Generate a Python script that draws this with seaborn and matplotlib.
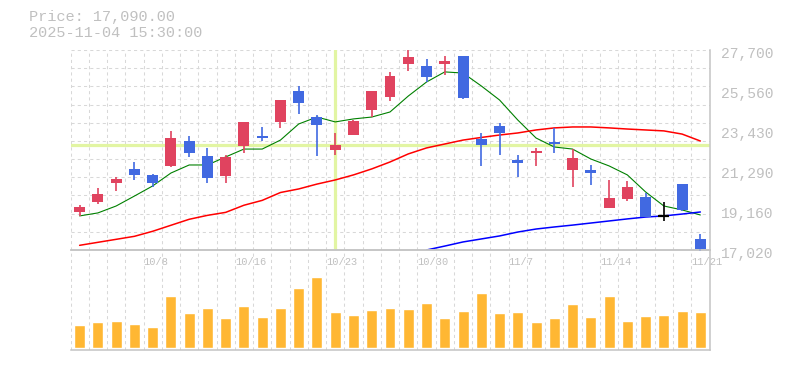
import matplotlib
matplotlib.use("Agg")
import matplotlib.pyplot as plt
import matplotlib.transforms as mtransforms
import numpy as np
import pandas as pd
import seaborn as sns

# trading days shown (2025)
dates = ["10/2", "10/3", "10/6", "10/7", "10/8", "10/9", "10/10", "10/14", "10/15", "10/16",
         "10/17", "10/20", "10/21", "10/22", "10/23", "10/24", "10/27", "10/28", "10/29", "10/30",
         "10/31", "11/4", "11/5", "11/6", "11/7", "11/10", "11/11", "11/12", "11/13", "11/14",
         "11/17", "11/18", "11/19", "11/20", "11/21"]
tickDates = ["10/8", "10/16", "10/23", "10/30", "11/7", "11/14", "11/21"]

opens = [19050, 19580, 20600, 21350, 21030, 21510, 22840, 22040, 20970, 22570, 23110, 23860, 25510, 24120, 22360, 23160, 24500, 25190,
         26950, 26850, 26950, 27380, 22950, 23640, 21830, 22200, 22790, 21290, 21290, 19260, 19740, 19850, 18860, 20540, 17610]
highs = [19440, 20330, 20920, 21720, 21080, 23380, 23110, 22470, 22090, 23860, 23590, 25030, 25780, 24230, 23270, 23960, 25510, 26530,
         27700, 27220, 27380, 27380, 23270, 23800, 22090, 22470, 23540, 22410, 21560, 20760, 20710, 20060, 19580, 20540, 17870]
lows = [18840, 19480, 20170, 20760, 20380, 21450, 21990, 20600, 20600, 22200, 22840, 23540, 24280, 22040, 22090, 23160, 24120, 24980,
        26580, 25990, 26370, 25080, 21510, 22090, 20920, 21510, 22200, 20380, 20490, 19260, 19640, 18780, 18570, 19100, 16970]
closes = [19320, 20010, 20810, 21030, 20600, 23000, 22200, 20870, 21990, 23860, 23000, 25030, 24870, 23700, 22630, 23910, 25510, 26310,
          27330, 26260, 27110, 25140, 22630, 23270, 21670, 22310, 22680, 21930, 21130, 19800, 20380, 18780, 18860, 19160, 17090]

ma5 = [18840, 19000, 19370, 19900, 20440, 21130, 21560, 21560, 21990, 22410, 22410, 22890, 23750, 24120, 23860, 24020, 24120, 24390,
       25240, 25990, 26530, 26470, 25780, 25030, 23960, 23000, 22520, 22410, 21880, 21510, 21030, 20120, 19370, 19160, 18890]
ma25 = [17270, 17430, 17590, 17750, 18020, 18340, 18660, 18870, 19030, 19410, 19670, 20090, 20280, 20540, 20760, 21030, 21350, 21720,
        22150, 22470, 22680, 22890, 23030, 23160, 23270, 23430, 23540, 23590, 23590, 23540, 23480, 23430, 23380, 23210, 22840]
ma75 = [np.nan] * 19 + [17020, 17230, 17450, 17610, 17770, 17980, 18140, 18250, 18350, 18460, 18570, 18680, 18780, 18840, 18940, 19050]

volume = [227, 257, 267, 237, 207, 517, 347, 397, 297, 417, 307, 397, 597, 707, 357, 327, 377, 397,
          387, 447, 297, 367, 547, 347, 357, 257, 297, 437, 307, 517, 267, 317, 327, 367, 357]

priceTicks = [17020, 19160, 21290, 23430, 25560, 27700]
priceTickLabels = ["17,020", "19,160", "21,290", "23,430", "25,560", "27,700"]
crossPrice = 22630
crossDate = "10/23"

upColor = "#e0435f"
downColor = "#4169e1"
gridColor = "#d8d8d8"
frameColor = "#c4c4c4"
textColor = "#c0c0c0"

sns.set_theme(style="white")
plt.rcParams['font.family'] = ['Liberation Mono', 'DejaVu Sans Mono']

W, H = 785, 370
fig = plt.figure(figsize=(W / 100, H / 100), dpi=100)
ax = fig.add_axes([70.5 / W, (H - 250) / H, 639 / W, 200 / H])
axv = fig.add_axes([70.5 / W, (H - 350) / H, 639 / W, 100 / H])

n = len(dates)
idx = np.arange(n)
lo, hi = priceTicks[0], priceTicks[-1]

# grid
for a in (ax, axv):
    a.vlines(np.arange(n) - 0.5, 0, 1, transform=a.get_xaxis_transform(), color=gridColor,
             lw=0.75, linestyles=(0, (3, 3)), zorder=0)
ax.hlines(lo + (hi - lo) / 11 * np.arange(1, 12), -0.5, n - 0.5, color=gridColor,
          lw=0.75, linestyles=(0, (3, 3)), zorder=0)

# crosshair
ax.axhline(crossPrice, color="#e2f5a3", lw=2.3, zorder=1)
ax.axvline(dates.index(crossDate), color="#e2f5a3", lw=2.3, zorder=1)

# moving averages
df = pd.DataFrame({"i": idx, "ma5": ma5, "ma25": ma25, "ma75": ma75})
sns.lineplot(data=df, x="i", y="ma5", ax=ax, color="#008000", lw=0.8, zorder=2)
sns.lineplot(data=df, x="i", y="ma25", ax=ax, color="#ff0000", lw=1.1, zorder=2)
sns.lineplot(data=df, x="i", y="ma75", ax=ax, color="#0000ff", lw=1.1, zorder=2)

# candles
for i in range(n):
    o, h, l, c = opens[i], highs[i], lows[i], closes[i]
    if c > o:
        col = upColor
    elif c < o:
        col = downColor
    else:
        col = "black"
    ax.vlines(i, l, h, color=col, lw=1.2, zorder=3, clip_on=False)
    if c == o:
        ax.hlines(o, i - 0.3, i + 0.3, color=col, lw=1.6, zorder=4)
    else:
        ax.bar(i, abs(c - o), bottom=min(o, c), width=0.6, color=col, lw=0, zorder=4)

ax.set_xlim(-0.5, n - 0.5)
ax.set_ylim(lo, hi)
ax.set_xticks([])
ax.set_xlabel("")
ax.set_ylabel("")
ax.yaxis.tick_right()
ax.set_yticks(priceTicks)
ax.set_yticklabels(priceTickLabels)
ax.tick_params(axis="y", length=0, pad=8, labelsize=10.5, labelcolor=textColor)
offset = mtransforms.ScaledTranslation(0, -2.5 / 100, fig.dpi_scale_trans)
for lbl in ax.get_yticklabels():
    lbl.set_transform(lbl.get_transform() + offset)

# volume
vdf = pd.DataFrame({"i": idx, "volume": volume})
sns.barplot(data=vdf, x="i", y="volume", ax=axv, color="#ffb733", saturation=1, width=0.6, zorder=2)
axv.set_xlim(-0.5, n - 0.5)
axv.set_ylim(-23, 977)
axv.set_xticks([])
axv.set_yticks([])
axv.set_xlabel("")
axv.set_ylabel("")
trans = mtransforms.blended_transform_factory(axv.transData, axv.transAxes)
for d in tickDates:
    axv.text(dates.index(d) - 0.5, 0.88, d, transform=trans, ha="left", va="center",
             fontsize=7.5, color=textColor)

for a in (ax, axv):
    for s in a.spines.values():
        s.set_color(frameColor)
        s.set_linewidth(1.1)
    a.spines["left"].set_visible(False)
    a.set_facecolor("none")
ax.spines["top"].set_visible(False)

fig.text(29 / W, 1 - 17.5 / H, "Price: 17,090.00", va="center", ha="left", fontsize=11, color=textColor)
fig.text(29 / W, 1 - 33 / H, "2025-11-04 15:30:00", va="center", ha="left", fontsize=11, color=textColor)

fig.savefig("out.png", dpi=100)
